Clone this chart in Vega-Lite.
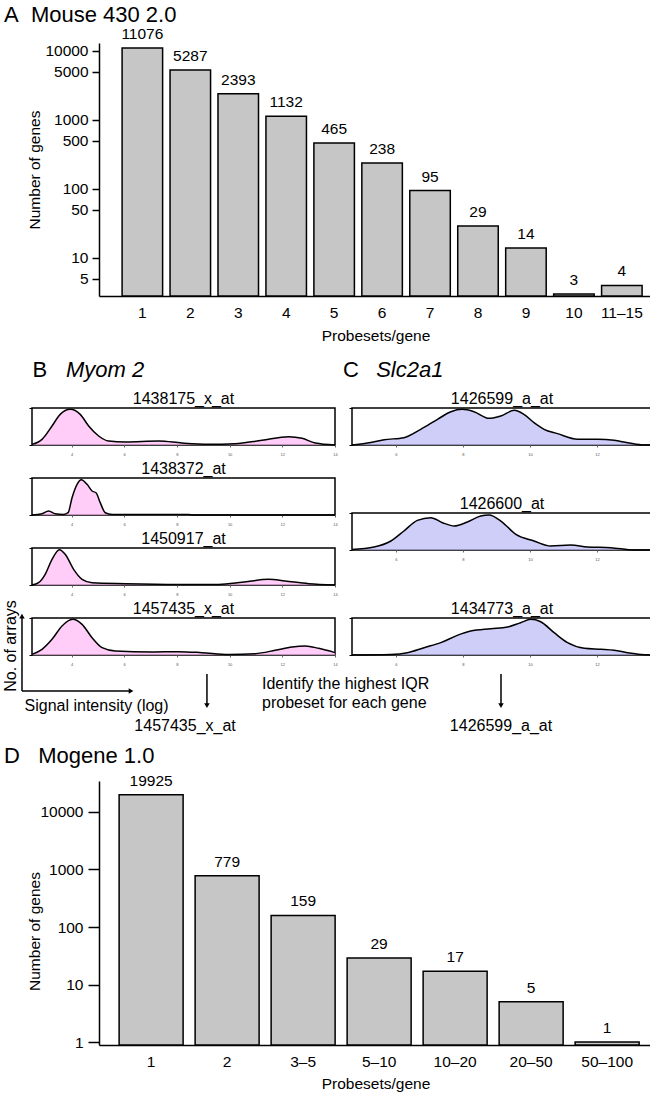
{
  "padding": {"left": 2, "top": 3, "right": 0, "bottom": 0},
  "config": {
    "view": {"stroke": null},
    "font": "Liberation Sans",
    "axis": {"labelColor": "black", "titleColor": "black", "domainColor": "black", "tickColor": "black", "grid": false, "titleFontWeight": "normal"},
    "text": {"color": "black"},
    "title": {"color": "black", "fontWeight": "normal"}
  },
  "spacing": 14,
  "vconcat": [
    {
      "bounds": "flush",
      "spacing": 0,
      "hconcat": [
        {"width": 67, "height": 10, "data": {"values": [{}]}, "mark": {"type": "point", "opacity": 0}},
        {
          "width": 553,
          "height": 253,
          "title": {"text": "A\u00a0\u00a0Mouse 430 2.0", "anchor": "start", "frame": "group", "dx": -95, "fontSize": 22, "baseline": "alphabetic", "offset": -17},
          "data": {"values": [
            {"probesets": "1", "genes": 11076},
            {"probesets": "2", "genes": 5287},
            {"probesets": "3", "genes": 2393},
            {"probesets": "4", "genes": 1132},
            {"probesets": "5", "genes": 465},
            {"probesets": "6", "genes": 238},
            {"probesets": "7", "genes": 95},
            {"probesets": "8", "genes": 29},
            {"probesets": "9", "genes": 14},
            {"probesets": "10", "genes": 3},
            {"probesets": "11–15", "genes": 4}
          ]},
          "encoding": {
            "x": {"field": "probesets", "type": "nominal", "sort": null, "title": "Probesets/gene",
              "scale": {"paddingInner": 0.155, "paddingOuter": 0.344, "align": 0.7},
              "axis": {"labelAngle": 0, "labelFontSize": 15.5, "tickSize": 0, "labelPadding": 9, "domainWidth": 1.5, "titleFontSize": 15.5, "titlePadding": 8}},
            "y": {"field": "genes", "type": "quantitative", "title": "Number of genes", "stack": null,
              "scale": {"type": "log", "domain": [2.81, 13060], "nice": false},
              "axis": {"values": [5, 10, 50, 100, 500, 1000, 5000, 10000], "format": "d", "labelFontSize": 15.5, "tickSize": 7, "tickWidth": 1.5, "domainWidth": 1.5, "labelPadding": 4, "titleFontSize": 15.5, "titlePadding": 2}}
          },
          "layer": [
            {"mark": {"type": "bar", "fill": "#c6c6c6", "stroke": "black", "strokeWidth": 1.5}, "encoding": {"y2": {"datum": 2.81}}},
            {"mark": {"type": "text", "dy": -9, "baseline": "alphabetic", "fontSize": 15.5}, "encoding": {"text": {"field": "genes", "type": "quantitative", "format": "d"}}}
          ]
        }
      ]
    },
    {
      "spacing": 9,
      "vconcat": [
        {
          "spacing": -78,
          "hconcat": [
            {
              "bounds": "flush",
              "spacing": 33,
              "vconcat": [
                {
                  "width": 303, "height": 37,
                  "view": {"stroke": "black", "strokeWidth": 1.5},
                  "layer": [
                    {
                      "data": {"values": [
                        {"x": 2.5, "d": 0.1}, {"x": 2.88, "d": 0.92}, {"x": 3.26, "d": 3.08}, {"x": 3.57, "d": 4.97}, {"x": 3.95, "d": 5.78}, {"x": 4.33, "d": 4.97}, {"x": 4.65, "d": 3.08}, {"x": 5.03, "d": 1.46}, {"x": 5.41, "d": 0.65}, {"x": 6.04, "d": 0.49}, {"x": 7.31, "d": 0.65}, {"x": 8.19, "d": 0.32}, {"x": 9.2, "d": 0.11}, {"x": 10.2, "d": 0.2}, {"x": 11.23, "d": 0.76}, {"x": 12.24, "d": 1.35}, {"x": 12.75, "d": 1.08}, {"x": 13.25, "d": 0.32}, {"x": 14, "d": 0}
                      ]},
                      "mark": {"type": "area", "color": "#ffb8f4", "interpolate": "monotone", "line": {"color": "black", "strokeWidth": 1.5}},
                      "encoding": {
                        "x": {"field": "x", "type": "quantitative", "scale": {"domain": [2.5, 14], "nice": false, "zero": false}, "axis": {"values": [4, 6, 8, 10, 12, 14], "title": null, "domain": false, "tickSize": 2, "tickColor": "#666", "labelFontSize": 4, "labelColor": "#555", "labelPadding": 5, "labelFlush": false}},
                        "y": {"field": "d", "type": "quantitative", "scale": {"domain": [0, 6], "nice": false}, "axis": {"values": [0, 1, 2, 3, 4, 5, 6], "title": null, "domain": false, "labels": false, "tickSize": 3, "tickWidth": 1}}
                      }
                    },
                    {"data": {"values": [{}]}, "mark": {"type": "text", "text": "1438175_x_at", "fontSize": 16, "baseline": "alphabetic", "align": "center"}, "encoding": {"x": {"datum": 8.25, "title": null}, "y": {"datum": 6.57, "title": null}}},
                    {"data": {"values": [{}]}, "mark": {"type": "text", "text": "B", "fontSize": 22, "baseline": "alphabetic", "align": "left"}, "encoding": {"x": {"datum": 2.52}, "y": {"datum": 10.96}}},
                    {"data": {"values": [{}]}, "mark": {"type": "text", "text": "Myom 2", "fontSize": 22, "fontStyle": "italic", "baseline": "alphabetic", "align": "left"}, "encoding": {"x": {"datum": 3.79}, "y": {"datum": 10.96}}}
                  ]
                },
                {
                  "width": 303, "height": 37,
                  "view": {"stroke": "black", "strokeWidth": 1.5},
                  "layer": [
                    {
                      "data": {"values": [
                        {"x": 2.5, "d": 0}, {"x": 2.88, "d": 0.2}, {"x": 3.13, "d": 0.65}, {"x": 3.38, "d": 0.2}, {"x": 3.7, "d": 0.1}, {"x": 3.87, "d": 0.37}, {"x": 4.02, "d": 2.8}, {"x": 4.21, "d": 4.97}, {"x": 4.37, "d": 5.72}, {"x": 4.59, "d": 4.97}, {"x": 4.78, "d": 3.89}, {"x": 4.93, "d": 3.6}, {"x": 5.09, "d": 2.0}, {"x": 5.28, "d": 0.37}, {"x": 5.54, "d": 0.1}, {"x": 7.05, "d": 0.1}, {"x": 8.45, "d": 0.1}, {"x": 8.6, "d": 0}, {"x": 14, "d": 0}
                      ]},
                      "mark": {"type": "area", "color": "#ffb8f4", "interpolate": "monotone", "line": {"color": "black", "strokeWidth": 1.5}},
                      "encoding": {
                        "x": {"field": "x", "type": "quantitative", "scale": {"domain": [2.5, 14], "nice": false, "zero": false}, "axis": {"values": [4, 6, 8, 10, 12, 14], "title": null, "domain": false, "tickSize": 2, "tickColor": "#666", "labelFontSize": 4, "labelColor": "#555", "labelPadding": 5, "labelFlush": false}},
                        "y": {"field": "d", "type": "quantitative", "scale": {"domain": [0, 6], "nice": false}, "axis": {"values": [0, 1, 2, 3, 4, 5, 6], "title": null, "domain": false, "labels": false, "tickSize": 3, "tickWidth": 1}}
                      }
                    },
                    {"data": {"values": [{}]}, "mark": {"type": "text", "text": "1438372_at", "fontSize": 16, "baseline": "alphabetic", "align": "center"}, "encoding": {"x": {"datum": 8.25, "title": null}, "y": {"datum": 6.57, "title": null}}}
                  ]
                },
                {
                  "width": 303, "height": 37,
                  "view": {"stroke": "black", "strokeWidth": 1.5},
                  "layer": [
                    {
                      "data": {"values": [
                        {"x": 2.5, "d": 0}, {"x": 2.75, "d": 0.37}, {"x": 3.0, "d": 1.73}, {"x": 3.26, "d": 4.16}, {"x": 3.54, "d": 5.72}, {"x": 3.76, "d": 4.97}, {"x": 4.08, "d": 2.54}, {"x": 4.4, "d": 0.92}, {"x": 4.78, "d": 0.37}, {"x": 6.04, "d": 0.22}, {"x": 8.07, "d": 0.1}, {"x": 9.59, "d": 0.1}, {"x": 10.47, "d": 0.43}, {"x": 11.48, "d": 0.92}, {"x": 12.1, "d": 0.65}, {"x": 13.0, "d": 0.22}, {"x": 14, "d": 0}
                      ]},
                      "mark": {"type": "area", "color": "#ffb8f4", "interpolate": "monotone", "line": {"color": "black", "strokeWidth": 1.5}},
                      "encoding": {
                        "x": {"field": "x", "type": "quantitative", "scale": {"domain": [2.5, 14], "nice": false, "zero": false}, "axis": {"values": [4, 6, 8, 10, 12, 14], "title": null, "domain": false, "tickSize": 2, "tickColor": "#666", "labelFontSize": 4, "labelColor": "#555", "labelPadding": 5, "labelFlush": false}},
                        "y": {"field": "d", "type": "quantitative", "scale": {"domain": [0, 6], "nice": false}, "axis": {"values": [0, 1, 2, 3, 4, 5, 6], "title": null, "domain": false, "labels": false, "tickSize": 3, "tickWidth": 1}}
                      }
                    },
                    {"data": {"values": [{}]}, "mark": {"type": "text", "text": "1450917_at", "fontSize": 16, "baseline": "alphabetic", "align": "center"}, "encoding": {"x": {"datum": 8.25, "title": null}, "y": {"datum": 6.57, "title": null}}}
                  ]
                },
                {
                  "width": 303, "height": 37,
                  "view": {"stroke": "black", "strokeWidth": 1.5},
                  "layer": [
                    {
                      "data": {"values": [
                        {"x": 2.5, "d": 0.1}, {"x": 2.88, "d": 0.92}, {"x": 3.26, "d": 2.54}, {"x": 3.64, "d": 4.7}, {"x": 4.04, "d": 5.78}, {"x": 4.4, "d": 4.97}, {"x": 4.78, "d": 2.8}, {"x": 5.16, "d": 1.19}, {"x": 5.66, "d": 0.65}, {"x": 7.05, "d": 0.49}, {"x": 8.07, "d": 0.54}, {"x": 8.95, "d": 0.38}, {"x": 9.97, "d": 0.1}, {"x": 10.97, "d": 0.22}, {"x": 11.73, "d": 0.76}, {"x": 12.37, "d": 1.3}, {"x": 12.87, "d": 1.46}, {"x": 13.38, "d": 1.08}, {"x": 14, "d": 0.38}
                      ]},
                      "mark": {"type": "area", "color": "#ffb8f4", "interpolate": "monotone", "line": {"color": "black", "strokeWidth": 1.5}},
                      "encoding": {
                        "x": {"field": "x", "type": "quantitative", "scale": {"domain": [2.5, 14], "nice": false, "zero": false}, "axis": {"values": [4, 6, 8, 10, 12, 14], "title": null, "domain": false, "tickSize": 2, "tickColor": "#666", "labelFontSize": 4, "labelColor": "#555", "labelPadding": 5, "labelFlush": false}},
                        "y": {"field": "d", "type": "quantitative", "scale": {"domain": [0, 6], "nice": false}, "axis": {"values": [0, 1, 2, 3, 4, 5, 6], "title": null, "domain": false, "labels": false, "tickSize": 3, "tickWidth": 1}}
                      }
                    },
                    {"data": {"values": [{}]}, "mark": {"type": "text", "text": "1457435_x_at", "fontSize": 16, "baseline": "alphabetic", "align": "center"}, "encoding": {"x": {"datum": 8.25, "title": null}, "y": {"datum": 6.57, "title": null}}},
                    {"data": {"values": [{}]}, "mark": {"type": "text", "text": "No. of arrays", "fontSize": 16, "angle": 270, "baseline": "middle", "align": "center"}, "encoding": {"x": {"datum": 1.7}, "y": {"datum": 1.46}}},
                    {"data": {"values": [{}]}, "mark": {"type": "rule", "strokeWidth": 1.5, "color": "black"}, "encoding": {"x": {"datum": 2.12}, "y": {"datum": -5.83}, "y2": {"datum": 6.16}}},
                    {"data": {"values": [{}]}, "mark": {"type": "point", "shape": "triangle-up", "size": 30, "filled": true, "opacity": 1, "color": "black"}, "encoding": {"x": {"datum": 2.12}, "y": {"datum": 6.3}}},
                    {"data": {"values": [{}]}, "mark": {"type": "rule", "strokeWidth": 1.5, "color": "black"}, "encoding": {"x": {"datum": 2.12}, "x2": {"datum": 6.22}, "y": {"datum": -5.83}}},
                    {"data": {"values": [{}]}, "mark": {"type": "point", "shape": "triangle-right", "size": 30, "filled": true, "opacity": 1, "color": "black"}, "encoding": {"x": {"datum": 6.26}, "y": {"datum": -5.83}}},
                    {"data": {"values": [{}]}, "mark": {"type": "text", "text": "Signal intensity (log)", "fontSize": 16, "baseline": "middle", "align": "center"}, "encoding": {"x": {"datum": 4.95}, "y": {"datum": -8.27}}},
                    {"data": {"values": [{}]}, "mark": {"type": "rule", "strokeWidth": 1.5, "color": "black"}, "encoding": {"x": {"datum": 9.14}, "y": {"datum": -3.08}, "y2": {"datum": -8.1}}},
                    {"data": {"values": [{}]}, "mark": {"type": "point", "shape": "triangle-down", "size": 30, "filled": true, "opacity": 1, "color": "black"}, "encoding": {"x": {"datum": 9.14}, "y": {"datum": -8.2}}},
                    {"data": {"values": [{}]}, "mark": {"type": "text", "text": "1457435_x_at", "fontSize": 16, "baseline": "middle", "align": "center"}, "encoding": {"x": {"datum": 8.31}, "y": {"datum": -11.51}}}
                  ]
                }
              ]
            },
            {
              "bounds": "flush",
              "spacing": 68,
              "vconcat": [
                {
                  "width": 300, "height": 37,
                  "view": {"stroke": "black", "strokeWidth": 1.5},
                  "layer": [
                    {
                      "data": {"values": [
                        {"x": 4.69, "d": 0}, {"x": 5.15, "d": 0.32}, {"x": 5.65, "d": 0.86}, {"x": 6.24, "d": 1.19}, {"x": 6.74, "d": 2.54}, {"x": 7.24, "d": 4.16}, {"x": 7.64, "d": 5.4}, {"x": 7.98, "d": 5.78}, {"x": 8.33, "d": 5.4}, {"x": 8.78, "d": 4.32}, {"x": 9.13, "d": 4.7}, {"x": 9.53, "d": 5.62}, {"x": 9.82, "d": 4.97}, {"x": 10.12, "d": 3.62}, {"x": 10.42, "d": 2.54}, {"x": 10.82, "d": 1.84}, {"x": 11.42, "d": 0.92}, {"x": 12.01, "d": 0.92}, {"x": 12.51, "d": 0.76}, {"x": 12.91, "d": 0.38}, {"x": 13.41, "d": 0}, {"x": 13.64, "d": 0}
                      ]},
                      "mark": {"type": "area", "color": "#b9b9f7", "interpolate": "monotone", "line": {"color": "black", "strokeWidth": 1.5}},
                      "encoding": {
                        "x": {"field": "x", "type": "quantitative", "scale": {"domain": [4.69, 13.64], "nice": false, "zero": false}, "axis": {"values": [6, 8, 10, 12], "title": null, "domain": false, "tickSize": 2, "tickColor": "#666", "labelFontSize": 4, "labelColor": "#555", "labelPadding": 5, "labelFlush": false}},
                        "y": {"field": "d", "type": "quantitative", "scale": {"domain": [0, 6], "nice": false}, "axis": {"values": [0, 1, 2, 3, 4, 5, 6], "title": null, "domain": false, "labels": false, "tickSize": 3, "tickWidth": 1}}
                      }
                    },
                    {"data": {"values": [{}]}, "mark": {"type": "text", "text": "1426599_a_at", "fontSize": 16, "baseline": "alphabetic", "align": "center"}, "encoding": {"x": {"datum": 9.165, "title": null}, "y": {"datum": 6.57, "title": null}}},
                    {"data": {"values": [{}]}, "mark": {"type": "text", "text": "C", "fontSize": 22, "baseline": "alphabetic", "align": "left"}, "encoding": {"x": {"datum": 4.42}, "y": {"datum": 10.96}}},
                    {"data": {"values": [{}]}, "mark": {"type": "text", "text": "Slc2a1", "fontSize": 22, "fontStyle": "italic", "baseline": "alphabetic", "align": "left"}, "encoding": {"x": {"datum": 5.41}, "y": {"datum": 10.96}}}
                  ]
                },
                {
                  "width": 300, "height": 37,
                  "view": {"stroke": "black", "strokeWidth": 1.5},
                  "layer": [
                    {
                      "data": {"values": [
                        {"x": 4.69, "d": 0.1}, {"x": 5.35, "d": 0.49}, {"x": 5.85, "d": 1.46}, {"x": 6.24, "d": 3.08}, {"x": 6.64, "d": 4.81}, {"x": 7.04, "d": 5.24}, {"x": 7.39, "d": 4.43}, {"x": 7.74, "d": 3.89}, {"x": 8.13, "d": 4.54}, {"x": 8.53, "d": 5.51}, {"x": 8.78, "d": 5.67}, {"x": 9.13, "d": 4.7}, {"x": 9.58, "d": 2.54}, {"x": 10.12, "d": 1.46}, {"x": 10.62, "d": 0.65}, {"x": 11.22, "d": 0.81}, {"x": 11.71, "d": 0.49}, {"x": 12.41, "d": 0.38}, {"x": 13.11, "d": 0}, {"x": 13.64, "d": 0}
                      ]},
                      "mark": {"type": "area", "color": "#b9b9f7", "interpolate": "monotone", "line": {"color": "black", "strokeWidth": 1.5}},
                      "encoding": {
                        "x": {"field": "x", "type": "quantitative", "scale": {"domain": [4.69, 13.64], "nice": false, "zero": false}, "axis": {"values": [6, 8, 10, 12], "title": null, "domain": false, "tickSize": 2, "tickColor": "#666", "labelFontSize": 4, "labelColor": "#555", "labelPadding": 5, "labelFlush": false}},
                        "y": {"field": "d", "type": "quantitative", "scale": {"domain": [0, 6], "nice": false}, "axis": {"values": [0, 1, 2, 3, 4, 5, 6], "title": null, "domain": false, "labels": false, "tickSize": 3, "tickWidth": 1}}
                      }
                    },
                    {"data": {"values": [{}]}, "mark": {"type": "text", "text": "1426600_at", "fontSize": 16, "baseline": "alphabetic", "align": "center"}, "encoding": {"x": {"datum": 9.165, "title": null}, "y": {"datum": 6.57, "title": null}}}
                  ]
                },
                {
                  "width": 300, "height": 37,
                  "view": {"stroke": "black", "strokeWidth": 1.5},
                  "layer": [
                    {
                      "data": {"values": [
                        {"x": 4.69, "d": 0}, {"x": 5.85, "d": 0.1}, {"x": 6.34, "d": 0.38}, {"x": 6.84, "d": 1.19}, {"x": 7.34, "d": 2.0}, {"x": 7.83, "d": 3.19}, {"x": 8.23, "d": 3.89}, {"x": 8.83, "d": 4.27}, {"x": 9.33, "d": 4.54}, {"x": 9.72, "d": 5.24}, {"x": 10.02, "d": 5.78}, {"x": 10.32, "d": 5.4}, {"x": 10.72, "d": 3.62}, {"x": 11.12, "d": 2.0}, {"x": 11.62, "d": 1.08}, {"x": 12.12, "d": 0.92}, {"x": 12.51, "d": 0.76}, {"x": 12.91, "d": 0.38}, {"x": 13.31, "d": 0.1}, {"x": 13.64, "d": 0}
                      ]},
                      "mark": {"type": "area", "color": "#b9b9f7", "interpolate": "monotone", "line": {"color": "black", "strokeWidth": 1.5}},
                      "encoding": {
                        "x": {"field": "x", "type": "quantitative", "scale": {"domain": [4.69, 13.64], "nice": false, "zero": false}, "axis": {"values": [6, 8, 10, 12], "title": null, "domain": false, "tickSize": 2, "tickColor": "#666", "labelFontSize": 4, "labelColor": "#555", "labelPadding": 5, "labelFlush": false}},
                        "y": {"field": "d", "type": "quantitative", "scale": {"domain": [0, 6], "nice": false}, "axis": {"values": [0, 1, 2, 3, 4, 5, 6], "title": null, "domain": false, "labels": false, "tickSize": 3, "tickWidth": 1}}
                      }
                    },
                    {"data": {"values": [{}]}, "mark": {"type": "text", "text": "1434773_a_at", "fontSize": 16, "baseline": "alphabetic", "align": "center"}, "encoding": {"x": {"datum": 9.165, "title": null}, "y": {"datum": 6.57, "title": null}}},
                    {"data": {"values": [{}]}, "mark": {"type": "text", "text": "Identify the highest IQR", "fontSize": 16, "baseline": "middle", "align": "left"}, "encoding": {"x": {"datum": 2.005}, "y": {"datum": -4.7}}},
                    {"data": {"values": [{}]}, "mark": {"type": "text", "text": "probeset for each gene", "fontSize": 16, "baseline": "middle", "align": "left"}, "encoding": {"x": {"datum": 2.005}, "y": {"datum": -7.78}}},
                    {"data": {"values": [{}]}, "mark": {"type": "rule", "strokeWidth": 1.5, "color": "black"}, "encoding": {"x": {"datum": 9.135}, "y": {"datum": -3.08}, "y2": {"datum": -8.1}}},
                    {"data": {"values": [{}]}, "mark": {"type": "point", "shape": "triangle-down", "size": 30, "filled": true, "opacity": 1, "color": "black"}, "encoding": {"x": {"datum": 9.135}, "y": {"datum": -8.2}}},
                    {"data": {"values": [{}]}, "mark": {"type": "text", "text": "1426599_a_at", "fontSize": 16, "baseline": "middle", "align": "center"}, "encoding": {"x": {"datum": 9.135}, "y": {"datum": -11.51}}}
                  ]
                }
              ]
            }
          ]
        },
        {
          "bounds": "flush",
          "spacing": 0,
          "hconcat": [
            {"width": 67, "height": 10, "data": {"values": [{}]}, "mark": {"type": "point", "opacity": 0}},
            {
              "width": 553,
              "height": 264,
              "title": {"text": "D\u00a0\u00a0\u00a0Mogene 1.0", "anchor": "start", "frame": "group", "dx": -95, "fontSize": 22, "baseline": "alphabetic", "offset": -11},
              "data": {"values": [
                {"probesets": "1", "genes": 19925},
                {"probesets": "2", "genes": 779},
                {"probesets": "3–5", "genes": 159},
                {"probesets": "5–10", "genes": 29},
                {"probesets": "10–20", "genes": 17},
                {"probesets": "20–50", "genes": 5},
                {"probesets": "50–100", "genes": 1}
              ]},
              "encoding": {
                "x": {"field": "probesets", "type": "nominal", "sort": null, "title": "Probesets/gene",
                  "scale": {"paddingInner": 0.158, "paddingOuter": 0.217, "align": 0.61},
                  "axis": {"labelAngle": 0, "labelFontSize": 15.5, "tickSize": 0, "labelPadding": 9, "domainWidth": 1.5, "titleFontSize": 15.5, "titlePadding": 7}},
                "y": {"field": "genes", "type": "quantitative", "title": "Number of genes", "stack": null,
                  "scale": {"type": "log", "domain": [0.887, 34600], "nice": false},
                  "axis": {"values": [1, 10, 100, 1000, 10000], "format": "d", "labelFontSize": 15.5, "tickSize": 11, "tickWidth": 1.5, "domainWidth": 1.5, "labelPadding": 5, "titleFontSize": 15.5, "titlePadding": -3, "titleY": 150}}
              },
              "layer": [
                {"mark": {"type": "bar", "fill": "#c6c6c6", "stroke": "black", "strokeWidth": 1.5}, "encoding": {"y2": {"datum": 0.887}}},
                {"mark": {"type": "text", "dy": -9, "baseline": "alphabetic", "fontSize": 15.5}, "encoding": {"text": {"field": "genes", "type": "quantitative", "format": "d"}}}
              ]
            }
          ]
        }
      ]
    }
  ]
}
